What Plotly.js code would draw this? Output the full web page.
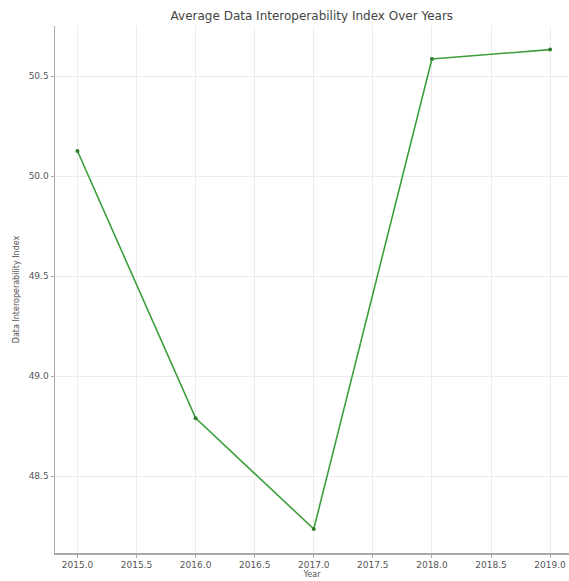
<!DOCTYPE html>
<html>
<head>
<meta charset="utf-8">
<script src="https://cdn.plot.ly/plotly-3.0.1.min.js"></script>
<style>html,body{margin:0;padding:0;background:#fff;}#chart{width:569px;height:581px;}</style>
</head>
<body>
<div id="chart"></div>
<script>
const years = [2015, 2016, 2017, 2018, 2019];
const indexValues = [50.125, 48.79, 48.236, 50.585, 50.632];
const xTicks = [2015.0, 2015.5, 2016.0, 2016.5, 2017.0, 2017.5, 2018.0, 2018.5, 2019.0];
const xTickLabels = ["2015.0", "2015.5", "2016.0", "2016.5", "2017.0", "2017.5", "2018.0", "2018.5", "2019.0"];
const yTicks = [48.5, 49.0, 49.5, 50.0, 50.5];
const yTickLabels = ["48.5", "49.0", "49.5", "50.0", "50.5"];

const trace = {
  x: years,
  y: indexValues,
  type: 'scatter',
  mode: 'lines+markers',
  line: {color: '#3c9f3c', width: 1.6},
  marker: {color: '#2e7d2e', size: 4},
  hoverinfo: 'x+y'
};

const layout = {
  width: 569,
  height: 581,
  margin: {l: 55, r: 0, t: 26, b: 28},
  paper_bgcolor: '#ffffff',
  plot_bgcolor: '#ffffff',
  showlegend: false,
  font: {family: 'DejaVu Sans, sans-serif', color: '#555555', size: 9},
  title: {
    text: 'Average Data Interoperability Index Over Years',
    font: {family: 'DejaVu Sans, sans-serif', size: 12, color: '#444444'},
    x: 0.548, xanchor: 'center', y: 0.972, yanchor: 'middle'
  },
  xaxis: {
    range: [2014.81, 2019.16],
    tickvals: xTicks,
    ticktext: xTickLabels,
    showgrid: true,
    gridcolor: '#ececec',
    gridwidth: 1,
    zeroline: false,
    showline: true,
    linecolor: '#aaaaaa',
    linewidth: 1.5,
    ticks: 'outside',
    ticklen: 3,
    tickcolor: '#aaaaaa',
    tickfont: {size: 9, color: '#555555'},
    title: {text: 'Year', font: {size: 8, color: '#555555'}, standoff: 2}
  },
  yaxis: {
    range: [48.116, 50.75],
    tickvals: yTicks,
    ticktext: yTickLabels,
    showgrid: true,
    gridcolor: '#ececec',
    gridwidth: 1,
    zeroline: false,
    showline: true,
    linecolor: '#aaaaaa',
    linewidth: 1.5,
    ticks: 'outside',
    ticklen: 3,
    tickcolor: '#aaaaaa',
    tickfont: {size: 9, color: '#555555'},
    title: {text: 'Data Interoperability Index', font: {size: 8, color: '#555555'}, standoff: 8}
  }
};

Plotly.newPlot('chart', [trace], layout, {displayModeBar: false, staticPlot: true});
</script>
</body>
</html>
